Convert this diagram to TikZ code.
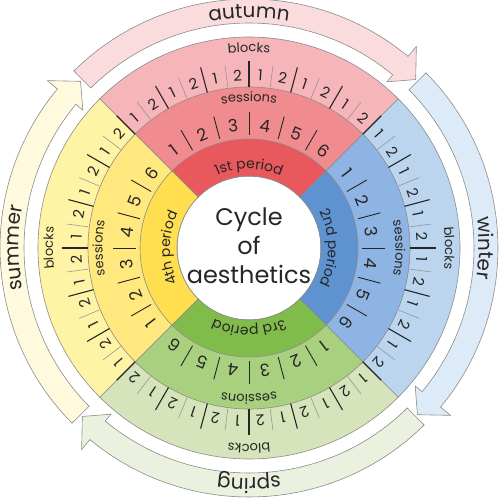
\documentclass[tikz,border=0pt]{standalone}
\usepackage{fontspec}
\setmainfont{Poppins}
\usetikzlibrary{decorations.text}

% quadrant colours: A period, B sessions, C blocks, D season arrow
\definecolor{redA}{HTML}{E8585C}
\definecolor{redB}{HTML}{F08C90}
\definecolor{redC}{HTML}{F5B5B9}
\definecolor{redD}{HTML}{FADCDF}
\definecolor{bluA}{HTML}{5E92D0}
\definecolor{bluB}{HTML}{8DB4E2}
\definecolor{bluC}{HTML}{BBD5EF}
\definecolor{bluD}{HTML}{DDEBF8}
\definecolor{grnA}{HTML}{80BC4C}
\definecolor{grnB}{HTML}{A9D07F}
\definecolor{grnC}{HTML}{D5E4BA}
\definecolor{grnD}{HTML}{EBF1DF}
\definecolor{yelA}{HTML}{FFDE4F}
\definecolor{yelB}{HTML}{FFE97E}
\definecolor{yelC}{HTML}{FFF3A6}
\definecolor{yelD}{HTML}{FFF9DE}
\definecolor{edge}{HTML}{8C8C8C}
\definecolor{ink}{HTML}{262626}

\newcommand\seafont{\fontsize{20}{20}\selectfont}
\newcommand\perfont{\fontsize{14}{14}\selectfont}
\newcommand\labfont{\fontsize{13}{13}\selectfont}
\newcommand\sesfont{\fontsize{17}{17}\selectfont}
\newcommand\blkfont{\fontsize{15}{15}\selectfont}

\tikzset{
  ring/.style={draw=edge, line width=0.6pt},
  season/.style={draw=edge, line width=0.6pt},
  major/.style={draw=ink, line width=1.1pt},
  minor/.style={draw=edge, line width=0.5pt},
  sestick/.style={draw=ink, line width=0.9pt},
  num/.style={text=ink, inner sep=0pt},
}

\begin{document}
\begin{tikzpicture}
    \useasboundingbox[fill=white] (-249pt,-252pt) rectangle (251pt,248pt);
    % one quadrant per season, drawn clockwise from the top
    \foreach \q/\col/\per/\sea in {0/red/1st/autumn, 1/blu/2nd/winter, 2/grn/3rd/spring, 3/yel/4th/summer}{
        \pgfmathsetmacro\p{90-90*\q}
        \pgfmathsetmacro\a{\p+45}
        \pgfmathsetmacro\b{\p-45}
        % blocks, sessions and period rings
        \filldraw[ring, fill=\col C] (\a:72pt) -- (\a:211pt) arc[start angle=\a, end angle=\b, radius=211pt]
            -- (\b:72pt) arc[start angle=\b, end angle=\a, radius=72pt] -- cycle;
        \filldraw[ring, fill=\col B] (\a:72pt) -- (\a:161pt) arc[start angle=\a, end angle=\b, radius=161pt]
            -- (\b:72pt) arc[start angle=\b, end angle=\a, radius=72pt] -- cycle;
        \filldraw[ring, fill=\col A] (\a:72pt) -- (\a:109pt) arc[start angle=\a, end angle=\b, radius=109pt]
            -- (\b:72pt) arc[start angle=\b, end angle=\a, radius=72pt] -- cycle;
        % session ticks inside the quadrant
        \foreach \i in {1,...,5}{
            \pgfmathsetmacro\t{\a-15*\i}
            \draw[sestick] (\t:113pt) -- (\t:136pt);
        }
        % session and block numbers
        \foreach \i in {1,...,6}{
            \pgfmathsetmacro\t{\a-15*\i+7.5}
            \pgfmathsetmacro\u{\a-15*\i+11.25}
            \pgfmathsetmacro\v{\a-15*\i+3.75}
            \node[num, font=\sesfont, rotate=\t-90] (s-\q-\i) at (\t:123pt) {\i};
            \node[num, font=\blkfont, rotate=\u-90] (b-\q-\i-1) at (\u:173pt) {1};
            \node[num, font=\blkfont, rotate=\v-90] (b-\q-\i-2) at (\v:173pt) {2};
        }
        % season arrow
        \pgfmathsetmacro\tl{\a-0.3}
        \pgfmathsetmacro\tp{\b+0.3}
        \pgfmathsetmacro\bb{\b+5.3}
        \filldraw[season, fill=\col D] (\tl:249pt) arc[start angle=\tl, end angle=\bb, radius=249pt]
            -- (\bb:262pt) -- (\tp:237pt) -- (\bb:216pt) -- (\bb:225pt)
            arc[start angle=\bb, end angle=\tl, radius=225pt] -- cycle;
        % curved labels
        \pgfmathsetmacro\c{\p+44}
        \pgfmathsetmacro\d{\p-44}
        \path[decorate, decoration={text along path, text align=center, text color=ink,
            text/.expanded={|\noexpand\seafont|\sea}}]
            (\c:230pt) arc[start angle=\c, end angle=\d, radius=230pt];
        \path[decorate, decoration={text along path, text align=center, text color=ink,
            text={|\labfont|blocks}}]
            (\c:196pt) arc[start angle=\c, end angle=\d, radius=196pt];
        \path[decorate, decoration={text along path, text align=center, text color=ink,
            text={|\labfont|sessions}}]
            (\c:146.5pt) arc[start angle=\c, end angle=\d, radius=146.5pt];
        \path[decorate, decoration={text along path, text align=center, text color=ink,
            text/.expanded={|\noexpand\perfont|\per\space period}}]
            (\c:79pt) arc[start angle=\c, end angle=\d, radius=79pt];
    }
    % block ticks: long at session edges, short between the two blocks
    \foreach \m in {0,...,23}{
        \pgfmathsetmacro\t{45+15*\m}
        \pgfmathsetmacro\h{52.5+15*\m}
        \draw[major] (\t:161pt) -- (\t:187pt);
        \draw[minor] (\h:162pt) -- (\h:184pt);
    }
    \node[align=center, text=ink, font=\fontsize{24}{29}\selectfont] (title) at (0pt,2pt) {Cycle\\of\\aesthetics};
\end{tikzpicture}
\end{document}
